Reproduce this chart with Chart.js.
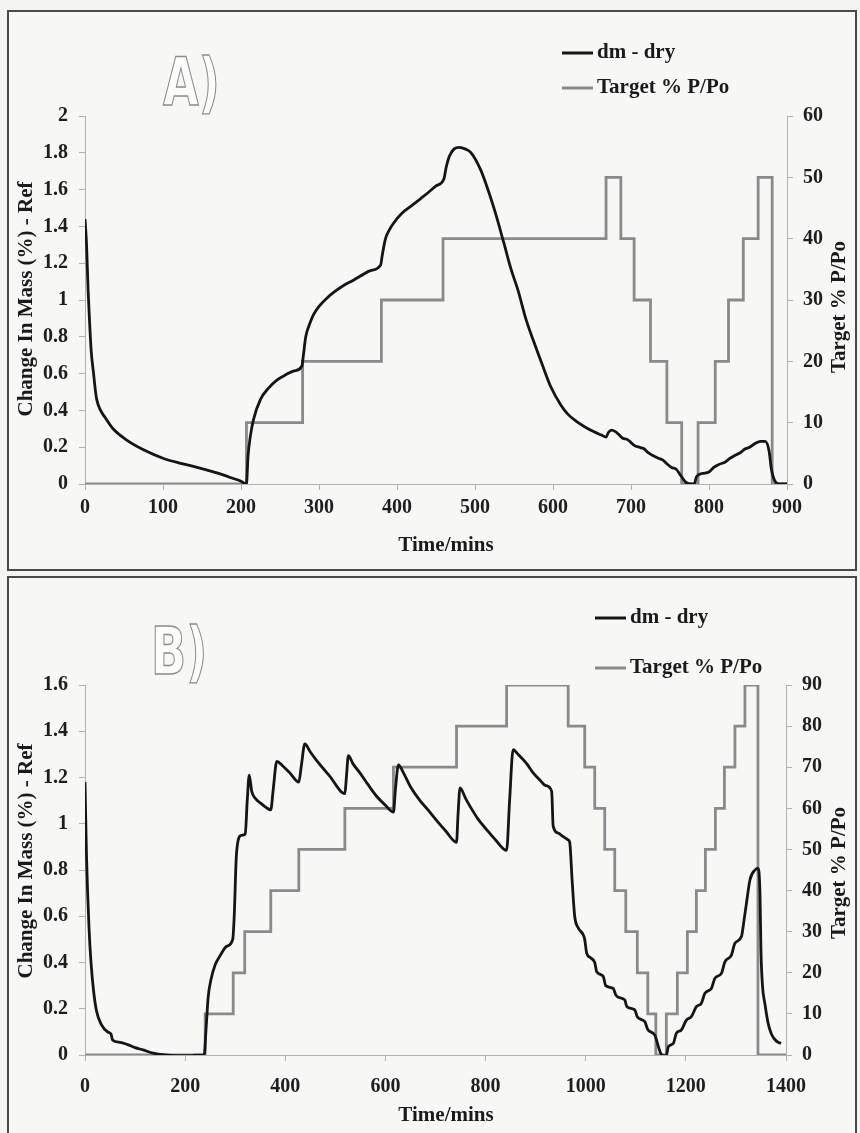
<!DOCTYPE html>
<html>
<head>
<meta charset="utf-8">
<title>Change in mass vs target P/Po</title>
<script src="https://cdn.jsdelivr.net/npm/chart.js@4.4.1/dist/chart.umd.min.js"></script>
<style>
  html, body { margin: 0; padding: 0; background: #f4f4f2; }
  body { width: 860px; height: 1133px; position: relative; overflow: hidden; }
  .frame { position: absolute; left: 7px; width: 846px; height: 557px; border: 2px solid #4a4a4a; background: #f7f7f5; }
  #frameA { top: 10px; }
  #frameB { top: 576px; }
  canvas { display: block; }
</style>
</head>
<body>
<div class="frame" id="frameA"><canvas id="chartA" width="846" height="557"></canvas></div>
<div class="frame" id="frameB"><canvas id="chartB" width="846" height="557"></canvas></div>

<script>
// ---- panel A: 0 -> 50 % P/Po cycle ----
const timeA = [0,2,4,6,8,11,13,15,20,26,36,53,75,100,120,139,169,190,200,205,207,209,212,216,225,235,246,258,268,278,280,283,288,293,300,310,320,332,343,353,366,379,381,385,390,396,406,418,430,439,450,460,463,467,473,480,488,495,507,515,525,537,546,555,565,576,587,597,610,619,630,641,652,662,668,671,675,680,684,689,696,700,704,712,717,722,728,735,741,746,752,758,764,770,776,781,784,791,800,806,812,821,827,833,840,846,852,859,866,872,877,880,884,890,900];
const massA = [1.44,1.30,1.05,0.87,0.72,0.60,0.52,0.46,0.40,0.36,0.30,0.24,0.186,0.14,0.115,0.096,0.06,0.03,0.015,0.002,0,0.15,0.26,0.35,0.46,0.52,0.565,0.595,0.615,0.64,0.70,0.80,0.87,0.92,0.965,1.01,1.045,1.08,1.105,1.13,1.16,1.19,1.24,1.33,1.38,1.42,1.47,1.51,1.55,1.58,1.62,1.656,1.72,1.78,1.82,1.83,1.82,1.80,1.71,1.62,1.49,1.31,1.17,1.055,0.90,0.766,0.64,0.53,0.43,0.38,0.34,0.31,0.285,0.266,0.255,0.28,0.293,0.285,0.27,0.25,0.24,0.225,0.21,0.198,0.19,0.17,0.155,0.14,0.13,0.11,0.09,0.08,0.045,0.01,0,0,0.04,0.057,0.065,0.09,0.105,0.12,0.14,0.155,0.17,0.19,0.2,0.22,0.232,0.232,0.18,0.08,0.02,0,0];
const stepTimeA = [0,207,279,380,459,668,687,704,725,746,765,786,808,825,844,863,881,900];
const targetA = [0,10,20,30,40,50,40,30,20,10,0,10,20,30,40,50,0,0];
const xTicksA = [0,100,200,300,400,500,600,700,800,900];
const massTicksA = [0,0.2,0.4,0.6,0.8,1,1.2,1.4,1.6,1.8,2];
const targetTicksA = [0,10,20,30,40,50,60];

// ---- panel B: 0 -> 90 % P/Po cycle ----
const timeB = [0,3,8,12,17,23,33,45,52,55,70,85,100,116,136,160,183,215,238,242,246,252,260,270,283,295,298,302,306,312,320,324,328,333,340,350,362,371,376,383,395,409,427,432,439,450,462,489,519,522,526,535,549,565,582,600,616,620,626,636,650,669,685,702,720,742,745,749,760,769,785,802,820,842,848,855,865,882,895,908,920,932,935,945,955,965,968,973,978,985,995,998,1002,1010,1018,1022,1035,1040,1055,1060,1065,1078,1082,1098,1103,1118,1124,1138,1142,1146,1152,1161,1165,1175,1181,1191,1201,1211,1221,1231,1238,1251,1258,1271,1278,1291,1298,1311,1316,1321,1328,1338,1344,1348,1350,1353,1358,1364,1371,1381,1390];
const massB = [1.18,0.86,0.55,0.40,0.28,0.19,0.13,0.10,0.09,0.065,0.055,0.045,0.032,0.022,0.008,0,-0.003,-0.002,0,0.12,0.25,0.33,0.39,0.43,0.47,0.50,0.60,0.85,0.93,0.95,0.955,1.10,1.21,1.14,1.11,1.09,1.07,1.06,1.15,1.27,1.25,1.22,1.18,1.25,1.345,1.31,1.275,1.205,1.13,1.2,1.295,1.26,1.22,1.17,1.12,1.08,1.05,1.15,1.255,1.22,1.16,1.10,1.06,1.015,0.97,0.92,1.04,1.155,1.11,1.075,1.02,0.975,0.93,0.885,1.10,1.32,1.30,1.26,1.22,1.19,1.165,1.14,0.99,0.96,0.944,0.93,0.92,0.75,0.60,0.55,0.52,0.50,0.44,0.42,0.40,0.36,0.34,0.30,0.288,0.26,0.25,0.238,0.21,0.195,0.165,0.144,0.11,0.086,0.06,0.03,0,-0.003,0.036,0.05,0.094,0.108,0.151,0.166,0.209,0.224,0.267,0.288,0.332,0.353,0.403,0.432,0.483,0.512,0.58,0.656,0.757,0.80,0.807,0.70,0.45,0.30,0.22,0.14,0.09,0.06,0.05];
const stepTimeB = [0,240,296,319,371,427,519,616,742,842,965,998,1018,1038,1058,1080,1103,1124,1140,1161,1183,1203,1221,1239,1259,1277,1298,1318,1344,1400];
const targetB = [0,10,20,30,40,50,60,70,80,90,80,70,60,50,40,30,20,10,0,10,20,30,40,50,60,70,80,90,0,0];
const xTicksB = [0,200,400,600,800,1000,1200,1400];
const massTicksB = [0,0.2,0.4,0.6,0.8,1,1.2,1.4,1.6];
const targetTicksB = [0,10,20,30,40,50,60,70,80,90];

const SERIF = '"Liberation Serif", "Times New Roman", serif';

function pairs(xs, ys) {
    return xs.map((x, i) => ({ x: x, y: ys[i] }));
}

// hollow panel letter, legend and the axis titles
const decor = {
    id: "decor",
    afterDraw(chart, args, o) {
        const ctx = chart.ctx;

        ctx.save();
        ctx.translate(o.letterX, o.letterY);
        ctx.scale(0.7, 1);
        ctx.font = 'bold 66px "DejaVu Sans"';
        ctx.lineWidth = 1.4;
        ctx.strokeStyle = "#8c8c8c";
        ctx.fillStyle = "#fcfcfb";
        ctx.fillText(o.letter, 0, 0);
        ctx.strokeText(o.letter, 0, 0);
        ctx.restore();

        ctx.save();
        ctx.font = "bold 21px " + SERIF;
        ctx.textBaseline = "middle";
        chart.data.datasets.forEach((ds, i) => {
            const y = o.legendY[i];
            ctx.strokeStyle = ds.borderColor;
            ctx.lineWidth = 3;
            ctx.beginPath();
            ctx.moveTo(o.legendX, y);
            ctx.lineTo(o.legendX + 31, y);
            ctx.stroke();
            ctx.fillStyle = "#1a1a1a";
            ctx.fillText(ds.label, o.legendX + 35, y);
        });
        ctx.restore();

        ctx.save();
        ctx.font = "bold 21px " + SERIF;
        ctx.textAlign = "center";
        ctx.textBaseline = "middle";
        ctx.fillStyle = "#1a1a1a";
        ctx.fillText(o.xTitle.text, o.xTitle.x, o.xTitle.y);
        ctx.restore();

        o.sideTitles.forEach(t => {
            ctx.save();
            ctx.translate(t.x, t.y);
            ctx.rotate(-Math.PI / 2);
            ctx.font = "bold 21px " + SERIF;
            ctx.textAlign = "center";
            ctx.textBaseline = "middle";
            ctx.fillStyle = "#1a1a1a";
            ctx.fillText(t.text, 0, 0);
            ctx.restore();
        });
    }
};

function makeChart(id, p) {
    const canvas = document.getElementById(id);
    const H = canvas.height;
    const tickFont = { family: SERIF, size: 20, weight: "bold" };
    const axisGrey = "#b2b2b2";

    return new Chart(canvas, {
        type: "line",
        data: {
            datasets: [
                {
                    label: "dm - dry",
                    data: pairs(p.time, p.mass),
                    yAxisID: "y",
                    borderColor: "#151515",
                    borderWidth: 2.8,
                    pointRadius: 0,
                    cubicInterpolationMode: "monotone"
                },
                {
                    label: "Target % P/Po",
                    data: pairs(p.stepTime, p.target),
                    yAxisID: "y1",
                    borderColor: "#8a8a8a",
                    borderWidth: 2.8,
                    pointRadius: 0,
                    stepped: "before"
                }
            ]
        },
        options: {
            responsive: false,
            animation: false,
            events: [],
            layout: { padding: { top: p.top, left: 0, right: 0, bottom: 0 } },
            plugins: {
                legend: { display: false },
                tooltip: { enabled: false },
                decor: {
                    letter: p.letter,
                    letterX: p.letterX,
                    letterY: p.letterY,
                    legendX: p.legendX,
                    legendY: p.legendY,
                    xTitle: { text: "Time/mins", x: 437, y: p.xTitleY },
                    sideTitles: [
                        { text: "Change In Mass (%) - Ref", x: 18, y: p.leftTitleY },
                        { text: "Target % P/Po", x: 831, y: p.rightTitleY }
                    ]
                }
            },
            scales: {
                x: {
                    type: "linear",
                    position: "bottom",
                    min: 0,
                    max: p.xTicks[p.xTicks.length - 1],
                    afterBuildTicks: s => { s.ticks = p.xTicks.map(value => ({ value })); },
                    afterFit: s => { s.height = H - p.bottom; },
                    grid: { drawOnChartArea: false, tickLength: 6, color: axisGrey },
                    border: { color: axisGrey },
                    ticks: {
                        font: tickFont,
                        color: "#1e1e1e",
                        padding: p.xLabelGap - 12 - 6,
                        maxRotation: 0,
                        autoSkip: false,
                        callback: val => String(val)
                    }
                },
                y: {
                    position: "left",
                    min: 0,
                    max: p.massTicks[p.massTicks.length - 1],
                    afterBuildTicks: s => { s.ticks = p.massTicks.map(value => ({ value })); },
                    afterFit: s => { s.width = p.left; },
                    grid: { drawOnChartArea: false, tickLength: 6, color: axisGrey },
                    border: { color: axisGrey },
                    ticks: { font: tickFont, color: "#1e1e1e", padding: 11, callback: val => String(val) }
                },
                y1: {
                    position: "right",
                    min: 0,
                    max: p.targetTicks[p.targetTicks.length - 1],
                    afterBuildTicks: s => { s.ticks = p.targetTicks.map(value => ({ value })); },
                    afterFit: s => { s.width = canvas.width - p.right; },
                    grid: { drawOnChartArea: false, tickLength: 6, color: axisGrey },
                    border: { color: axisGrey },
                    ticks: { font: tickFont, color: "#1e1e1e", padding: 10, callback: val => String(val) }
                }
            }
        },
        plugins: [decor]
    });
}

makeChart("chartA", {
    time: timeA, mass: massA, stepTime: stepTimeA, target: targetA,
    xTicks: xTicksA, massTicks: massTicksA, targetTicks: targetTicksA,
    left: 76, right: 778, top: 104, bottom: 472,
    xLabelGap: 24, xTitleY: 534,
    letter: "A)", letterX: 154, letterY: 93,
    legendX: 553, legendY: [41, 76],
    leftTitleY: 287, rightTitleY: 295
});

makeChart("chartB", {
    time: timeB, mass: massB, stepTime: stepTimeB, target: targetB,
    xTicks: xTicksB, massTicks: massTicksB, targetTicks: targetTicksB,
    left: 76, right: 777, top: 107, bottom: 477,
    xLabelGap: 32, xTitleY: 538,
    letter: "B)", letterX: 142, letterY: 96,
    legendX: 586, legendY: [40, 90],
    leftTitleY: 283, rightTitleY: 295
});
</script>
</body>
</html>
